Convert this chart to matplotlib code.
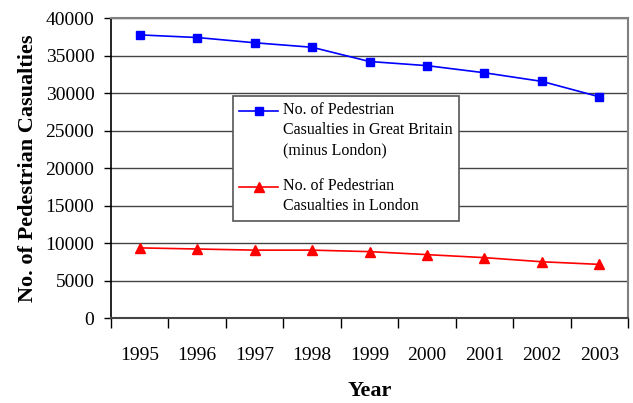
import numpy as np
import matplotlib.pyplot as plt
from matplotlib.legend_handler import HandlerLine2D

years = ['1995', '1996', '1997', '1998', '1999', '2000', '2001', '2002', '2003']
gb_minus_london = [37750, 37400, 36700, 36100, 34200, 33650, 32700, 31550, 29500]
london = [9350, 9200, 9050, 9050, 8850, 8450, 8050, 7500, 7150]

plt.rcParams['font.family'] = ['Liberation Serif', 'DejaVu Serif']


# legend handle sits on the first text line, like in Excel
class RaisedLine(HandlerLine2D):
    def __init__(self, lift, **kw):
        super().__init__(**kw)
        self.lift = lift

    def create_artists(self, legend, orig_handle, xdescent, ydescent, width,
                       height, fontsize, trans):
        arts = super().create_artists(legend, orig_handle, xdescent, ydescent,
                                      width, height, fontsize, trans)
        for a in arts:
            a.set_ydata(np.asarray(a.get_ydata()) + self.lift)
        return arts


fig = plt.figure(figsize=(6.33, 4.03), dpi=100)
ax = fig.add_axes([0.1754, 0.2109, 0.8167, 0.7444])

x = list(range(len(years)))
l1, = ax.plot(x, gb_minus_london, color='#0000ff', marker='s', markersize=6, lw=1.2,
              label='No. of Pedestrian\nCasualties in Great Britain\n(minus London)')
l2, = ax.plot(x, london, color='#ff0000', marker='^', markersize=7.5, lw=1.2,
              label='No. of Pedestrian\nCasualties in London')

ax.set_xlim(-0.5, len(years) - 0.5)
ax.set_ylim(0, 40000)
ax.set_yticks(range(0, 40001, 5000))
ax.set_xticks([i - 0.5 for i in range(len(years) + 1)])
ax.set_xticklabels([])
ax.set_xticks(x, minor=True)
ax.set_xticklabels(years, minor=True)
ax.tick_params(axis='x', which='minor', length=0, pad=21, labelsize=14)
ax.tick_params(axis='x', which='major', length=7, width=1, direction='out')
ax.tick_params(axis='y', length=5, width=1, direction='out', labelsize=14, pad=7)

ax.yaxis.grid(True, color='#444444', lw=1)
ax.set_axisbelow(True)
for s in ['top', 'right']:
    ax.spines[s].set_color('#808080')
    ax.spines[s].set_linewidth(1.5)
ax.spines['left'].set_linewidth(1.2)
ax.spines['bottom'].set_color('#444444')
ax.spines['bottom'].set_linewidth(1.5)

ax.set_xlabel('Year', fontsize=16, fontweight='bold')
ax.set_ylabel('No. of Pedestrian Casualties', fontsize=16, fontweight='bold')
ax.yaxis.set_label_coords(-0.142, 0.5)
ax.xaxis.set_label_coords(0.5, -0.21)

leg = ax.legend(loc='upper left', bbox_to_anchor=(0.236, 0.74), fontsize=11.5,
                frameon=True, fancybox=False, framealpha=1, edgecolor='#555555',
                handlelength=2.4, labelspacing=1.25, borderpad=0.4, handletextpad=0.3,
                borderaxespad=0,
                handler_map={l1: RaisedLine(14.4), l2: RaisedLine(7.2)})
leg.get_frame().set_linewidth(1.2)
for t in leg.get_texts():
    t.set_linespacing(1.33)

fig.savefig('out.png', dpi=100)
